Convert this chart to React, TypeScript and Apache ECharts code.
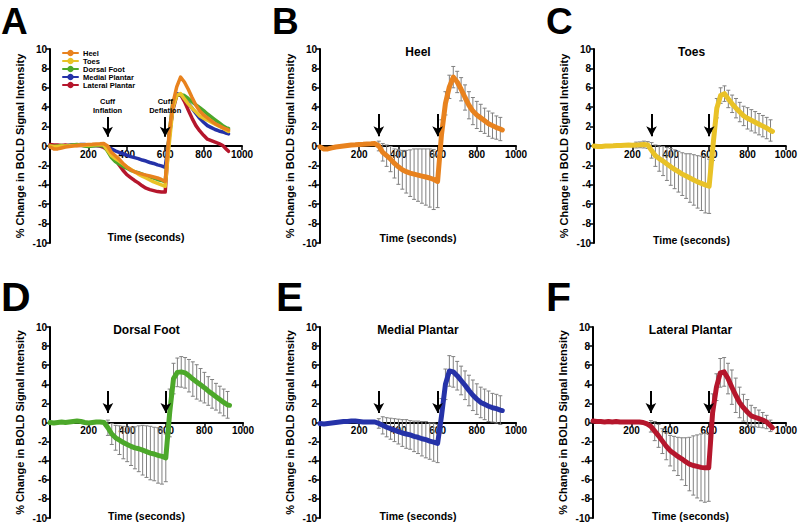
import React, { useEffect, useRef } from 'react';
import * as echarts from 'echarts';

// Time (seconds)
const timeSec = [0, 20, 40, 60, 80, 100, 120, 140, 160, 180, 200, 220, 240, 260, 280,
  300, 320, 340, 360, 380, 400, 420, 440, 460, 480, 500, 520, 540, 560, 580, 600,
  620, 640, 660, 680, 700, 720, 740, 760, 780, 800, 820, 840, 860, 880, 900, 920, 930];

// Mean % change in BOLD signal intensity
const heel = [-0.1, -0.3, -0.3, -0.2, -0.1, -0.05, 0, 0.05, 0.1, 0.12, 0.15, 0.17, 0.2, 0.22, 0.25,
  0.0, -0.65, -1.0, -1.35, -1.8, -2.15, -2.45, -2.65, -2.8, -2.9, -3.0, -3.1, -3.2, -3.3, -3.45, -3.65,
  1.2, 4.4, 6.1, 7.1, 6.6, 5.85, 5.0, 4.2, 3.6, 3.2, 2.9, 2.6, 2.3, 2.1, 1.9, 1.75, 1.65];
const toes = [0, -0.05, -0.05, 0, 0, 0.02, 0.05, 0.05, 0.08, 0.1, 0.08, 0.1, 0.12, 0.15, 0.1,
  -0.45, -1.0, -1.3, -1.55, -1.85, -2.15, -2.4, -2.65, -2.9, -3.1, -3.3, -3.5, -3.7, -3.85, -4.0, -4.15,
  0.0, 3.9, 5.2, 5.4, 4.85, 4.35, 3.9, 3.5, 3.1, 2.85, 2.65, 2.45, 2.25, 2.05, 1.85, 1.6, 1.5];
const dorsalFoot = [0, -0.05, 0, 0.05, 0, 0.05, 0.1, 0.15, 0.1, 0, -0.05, 0, 0.05, 0.05, 0,
  -0.55, -1.2, -1.6, -1.85, -2.1, -2.3, -2.5, -2.65, -2.75, -2.9, -3.05, -3.2, -3.3, -3.45, -3.55, -3.7,
  1.0, 4.6, 5.25, 5.3, 5.2, 4.9, 4.55, 4.25, 3.95, 3.65, 3.3, 3.0, 2.7, 2.4, 2.1, 1.85, 1.8];
const medialPlantar = [-0.1, -0.15, -0.1, -0.05, 0, 0.05, 0.1, 0.1, 0.15, 0.15, 0.1, 0.05, 0.05, 0.05, 0.05,
  -0.1, -0.3, -0.5, -0.65, -0.8, -0.95, -1.1, -1.2, -1.3, -1.45, -1.55, -1.7, -1.8, -1.95, -2.05, -2.2,
  0.7, 4.0, 5.4, 5.3, 4.9, 4.4, 3.9, 3.35, 2.85, 2.45, 2.1, 1.9, 1.7, 1.55, 1.45, 1.3, 1.25];
const lateralPlantar = [0.15, 0.1, 0.1, 0.05, 0.1, 0.05, 0.1, 0.05, 0.05, 0.05, 0.05, 0.05, 0.05, 0, -0.15,
  -0.4, -0.9, -1.4, -1.95, -2.5, -2.95, -3.25, -3.55, -3.8, -4.1, -4.35, -4.5, -4.6, -4.7, -4.75, -4.75,
  1.0, 3.7, 5.2, 5.3, 4.6, 3.7, 2.85, 2.1, 1.55, 1.1, 0.7, 0.55, 0.4, 0.25, 0.05, -0.35, -0.55];

// Error bar half-lengths (null = no bar)
const N15 = [null, null, null, null, null, null, null, null, null, null, null, null, null, null, null];
const heelErr = [...N15,
  0.5, 0.9, 1.1, 1.3, 1.5, 1.8, 2.0, 2.2, 2.4, 2.6, 2.7, 2.8, 2.9, 3.0, 3.1, 2.7,
  1.5, 1.2, 1.2, 1.1, 1.1, 1.2, 1.3, 1.4, 1.4, 1.4, 1.4, 1.3, 1.3, 1.3, 1.2, 1.2, null];
const toesErr = [null, null, null, null, null, null, null, null, null, null, null, 0.3, 0.3, 0.35, 0.35,
  0.8, 1.1, 1.3, 1.5, 1.7, 1.9, 2.0, 2.1, 2.2, 2.3, 2.5, 2.6, 2.7, 2.8, 2.9, 2.8,
  1.5, 1.0, 0.8, 0.8, 0.9, 0.9, 1.0, 1.0, 1.0, 1.1, 1.1, 1.1, 1.1, 1.1, 1.1, 1.1, null];
const dorsalFootErr = [...N15,
  0.8, 1.1, 1.3, 1.5, 1.7, 1.8, 2.0, 2.2, 2.4, 2.6, 2.7, 2.8, 2.8, 2.9, 2.9, 2.5,
  2.5, 1.6, 1.5, 1.6, 1.6, 1.7, 1.8, 1.8, 1.7, 1.6, 1.5, 1.5, 1.4, 1.4, 1.4, 1.4, null];
const medialPlantarErr = [...N15,
  0.5, 0.9, 1.0, 1.1, 1.2, 1.3, 1.4, 1.5, 1.5, 1.6, 1.7, 1.8, 1.9, 1.9, 2.0, 2.0,
  1.8, 1.6, 1.6, 1.6, 1.5, 1.5, 1.5, 1.6, 1.6, 1.6, 1.6, 1.6, 1.6, 1.5, 1.5, 1.5, null];
const lateralPlantarErr = [...N15,
  0.6, 1.0, 1.2, 1.3, 1.4, 1.6, 1.8, 2.0, 2.2, 2.5, 2.8, 3.1, 3.3, 3.5, 3.6, 3.5,
  2.0, 1.4, 1.5, 1.5, 1.6, 1.8, 1.8, 1.6, 1.4, 1.3, 1.1, 1.0, 0.9, 0.8, 0.7, 0.6, null];

const regionNames = ['Heel', 'Toes', 'Dorsal Foot', 'Medial Plantar', 'Lateral Plantar'];
const cuffTimes = [300, 600];
const cuffLabels = ['Cuff\nInflation', 'Cuff\nDeflation'];
const panelLetters = ['A', 'B', 'C', 'D', 'E', 'F'];
const yTitle = '% Change in BOLD Signal Intensity';
const xTitle = 'Time (seconds)';

const regionMeans = [heel, toes, dorsalFoot, medialPlantar, lateralPlantar];
const regionErrs = [heelErr, toesErr, dorsalFootErr, medialPlantarErr, lateralPlantarErr];
const regionColors = ['#E8821E', '#E9C227', '#4CA82A', '#2532A8', '#B5162C'];

const FONT = "'Liberation Sans', Arial, sans-serif";

const grids = [
  { left: 50, top: 49, width: 192, height: 194 },
  { left: 320, top: 49, width: 196, height: 194 },
  { left: 594, top: 49, width: 195, height: 194 },
  { left: 50, top: 327, width: 193, height: 191 },
  { left: 320, top: 327, width: 196, height: 191 },
  { left: 593, top: 327, width: 195, height: 191 },
];
// [x, y, fontSize]
const letterPos = [[1, 3, 37], [272, 3, 37], [546, 3, 37], [1, 276, 41], [276, 276, 41], [546, 276, 41]];
const xNameY = [237, 238, 240, 516, 516, 516];

function buildOption() {
  // the x axis crosses y = 0, which sits at the vertical middle of each grid (-10..10)
  const xAxis = grids.map((g, i) => ({
    type: 'value', gridIndex: i, min: 0, max: 1000, interval: 200,
    position: 'bottom', offset: -g.height / 2,
    axisLine: { show: true, onZero: false, lineStyle: { color: '#000', width: 2 } },
    axisTick: { show: true, length: 4, lineStyle: { color: '#000', width: 1.5 } },
    axisLabel: {
      color: '#000', fontWeight: 'bold', fontSize: 10, fontFamily: FONT, margin: 3,
      formatter: (v: number) => (v === 0 ? '' : String(v)),
    },
    splitLine: { show: false },
  }));
  const yAxis = grids.map((_, i) => ({
    type: 'value', gridIndex: i, min: -10, max: 10, interval: 2,
    name: yTitle, nameLocation: 'middle', nameGap: 25,
    nameTextStyle: { color: '#000', fontWeight: 'bold', fontSize: 11, fontFamily: FONT },
    axisLine: { show: true, lineStyle: { color: '#000', width: 2 } },
    axisTick: { show: true, length: 4, lineStyle: { color: '#000', width: 1.5 } },
    axisLabel: { color: '#000', fontWeight: 'bold', fontSize: 10, fontFamily: FONT, margin: 3 },
    splitLine: { show: false },
  }));

  const arrowMark = (withLabel: boolean, top: number, tip: number) => ({
    silent: true,
    symbol: ['none', 'arrow'],
    symbolSize: [8, 10],
    lineStyle: { color: '#000', width: 2, type: 'solid' },
    label: withLabel
      ? { show: true, position: 'start', formatter: '{b}', fontSize: 7.5, fontWeight: 'bold', color: '#000', fontFamily: FONT, lineHeight: 9, distance: 2 }
      : { show: false },
    emphasis: { disabled: true },
    data: cuffTimes.map((t, k) => [
      { name: cuffLabels[k], coord: [t, top] },
      { coord: [t, tip] },
    ]),
  });

  const series: any[] = [];
  // Panel A overlay: draw Lateral first so Heel ends on top
  for (let r = regionNames.length - 1; r >= 0; r--) {
    series.push({
      type: 'line', name: regionNames[r], xAxisIndex: 0, yAxisIndex: 0,
      data: timeSec.map((t, i) => [t, regionMeans[r][i]]),
      symbol: 'circle', symbolSize: 5, showSymbol: false,
      lineStyle: { color: regionColors[r], width: 3.5, cap: 'round', join: 'round' },
      itemStyle: { color: regionColors[r] },
      z: 3,
      markLine: r === 0 ? arrowMark(true, 3.0, 0.95) : undefined,
    });
  }
  // Panels B-F
  regionNames.forEach((nm, r) => {
    const gi = r + 1;
    const errData = timeSec
      .map((t, i) => [t, regionMeans[r][i], regionErrs[r][i]])
      .filter((d) => d[2] !== null);
    series.push({
      type: 'custom', xAxisIndex: gi, yAxisIndex: gi, z: 2, silent: true,
      data: errData,
      encode: { x: 0, y: 1 },
      renderItem: (_p: any, api: any) => {
        const t = api.value(0), m = api.value(1), e = api.value(2);
        const hi = api.coord([t, m + e]);
        const lo = api.coord([t, m - e]);
        const w = 2;
        const st = { stroke: '#808080', lineWidth: 1 };
        return {
          type: 'group',
          children: [
            { type: 'line', shape: { x1: hi[0], y1: hi[1], x2: lo[0], y2: lo[1] }, style: st },
            { type: 'line', shape: { x1: hi[0] - w, y1: hi[1], x2: hi[0] + w, y2: hi[1] }, style: st },
            { type: 'line', shape: { x1: lo[0] - w, y1: lo[1], x2: lo[0] + w, y2: lo[1] }, style: st },
          ],
        };
      },
    });
    series.push({
      type: 'line', name: nm, xAxisIndex: gi, yAxisIndex: gi,
      data: timeSec.map((t, i) => [t, regionMeans[r][i]]),
      symbol: 'circle', symbolSize: 5, showSymbol: false,
      lineStyle: { color: regionColors[r], width: 5, cap: 'round', join: 'round' },
      itemStyle: { color: regionColors[r] },
      z: 3,
      markLine: arrowMark(false, 3.3, 1.0),
    });
  });

  const graphics: any[] = [];
  panelLetters.forEach((L, i) => {
    const [lx, ly, fs] = letterPos[i];
    graphics.push({
      type: 'text', x: lx, y: ly,
      style: { text: L, fontSize: fs, lineHeight: fs, fontWeight: 'bold', fontFamily: FONT, fill: '#000', align: 'left', verticalAlign: 'top' },
    });
  });
  grids.forEach((g, i) => {
    const cx = g.left + g.width / 2;
    graphics.push({
      type: 'text', x: cx, y: xNameY[i],
      style: { text: xTitle, fontSize: 10.5, fontWeight: 'bold', fontFamily: FONT, fill: '#000', align: 'center', verticalAlign: 'middle' },
    });
    if (i > 0) {
      graphics.push({
        type: 'text', x: cx, y: g.top + 3,
        style: { text: regionNames[i - 1], fontSize: 12, fontWeight: 'bold', fontFamily: FONT, fill: '#000', align: 'center', verticalAlign: 'middle' },
      });
    }
  });

  return {
    animation: false,
    backgroundColor: '#fff',
    grid: grids.map((g) => ({ ...g, containLabel: false })),
    xAxis, yAxis, series,
    legend: {
      data: regionNames, orient: 'vertical', left: 57, top: 44,
      itemGap: 0, itemWidth: 15, itemHeight: 8, selectedMode: false,
      textStyle: { fontSize: 7.5, fontWeight: 'bold', color: '#000', fontFamily: FONT },
    },
    graphic: graphics,
  };
}

export default function App() {
  const ref = useRef<HTMLDivElement>(null);
  useEffect(() => {
    if (!ref.current) return;
    const chart = echarts.init(ref.current, undefined, { renderer: 'svg' });
    chart.setOption(buildOption() as any);
    return () => chart.dispose();
  }, []);
  return <div ref={ref} style={{ position: 'fixed', left: 0, top: 0, width: 800, height: 524, background: '#fff' }} />;
}
